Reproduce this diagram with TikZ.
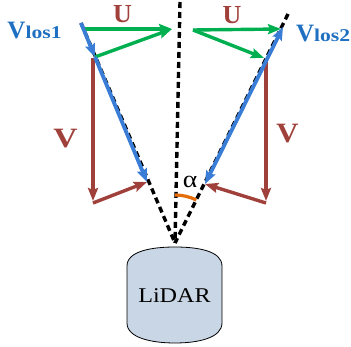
\documentclass[tikz,border=0pt]{standalone}
\usepackage{fontspec}
\setmainfont{Liberation Serif}
\usetikzlibrary{arrows.meta}
\definecolor{losblue}{HTML}{1F70C1}
\definecolor{arrblue}{HTML}{3A7DD6}
\definecolor{ugreen}{HTML}{00B050}
\definecolor{vred}{HTML}{A0403A}
\definecolor{arcorange}{HTML}{E46C0A}
\definecolor{lidarfill}{HTML}{C9D6E5}
\begin{document}
\begin{tikzpicture}[x=1pt,y=-1pt,
  beam/.style={black, line width=3.4pt, dash pattern=on 6pt off 4pt},
  vtip/.style={-{Stealth[length=13pt,width=10pt,inset=2pt]}},
  bluevec/.style={arrblue, line width=3.8pt},
  greenvec/.style={ugreen, line width=3.4pt, vtip},
  redvec/.style={vred, line width=3.4pt, vtip},
  lbl/.style={inner sep=0pt, outer sep=0pt}]
\useasboundingbox (0,0) rectangle (351,347);

% key points
\coordinate (apex) at (175,243);
\coordinate (ctop) at (180,2);
\coordinate (L0) at (81,23);
\coordinate (L1) at (95,57);
\coordinate (Lend) at (147,182);
\coordinate (Lvtop) at (93,58);
\coordinate (Lvbot) at (93,201);
\coordinate (Lcorner) at (93,203);
\coordinate (LUs) at (82,29);
\coordinate (LUe) at (172,29);
\coordinate (R0) at (288,14);
\coordinate (Rtip) at (283,27);
\coordinate (Rend) at (205,184);
\coordinate (Rvtop) at (266,61);
\coordinate (Rvbot) at (266,201);
\coordinate (Rcorner) at (266,203);
\coordinate (RUs) at (193,30);
\coordinate (RUe) at (281,29);
\coordinate (Rg2e) at (264,58);

% LiDAR body
\path[draw=black, line width=0.8pt, fill=lidarfill]
  (127,266) .. controls (127,251) and (152,247) .. (175,247)
  .. controls (198,247) and (222,251) .. (222,266)
  -- (222,323) .. controls (222,338) and (198,343) .. (175,343)
  .. controls (152,343) and (127,338) .. (127,323) -- cycle;
\node[lbl, anchor=base] (lidar) at (174.5,302.5)
  {\fontsize{21}{21}\selectfont\scalebox{1.15}[1]{LiDAR}};

% beams
\draw[beam] (L0) -- (apex);
\draw[beam] (ctop) -- (apex);
\draw[beam] (R0) -- (apex);

% angle arc
\draw[arcorange, line width=3.2pt] ([shift={(-90:48)}]apex) arc[start angle=-90, end angle=-63.6, radius=48];
\node[lbl] (alpha) at (190,181.5) {\fontsize{24}{24}\selectfont\scalebox{1.15}[1]{α}};

% red V vectors
\draw[redvec] (Lvtop) -- (Lvbot);
\draw[redvec] (Lcorner) -- (Lend);
\draw[redvec] (Rvtop) -- (Rvbot);
\draw[redvec] (Rcorner) -- (Rend);

% green U vectors
\draw[greenvec] (LUs) -- (LUe);
\draw[greenvec] (L1) -- (LUe);
\draw[greenvec] (RUs) -- (RUe);
\draw[greenvec] (RUs) -- (Rg2e);

% blue Vlos vectors
\draw[bluevec, vtip] (L0) -- (L1);
\draw[bluevec, vtip] (L1) -- (Lend);
\draw[bluevec, {Stealth[length=13pt,width=10pt,inset=2pt]}-{Stealth[length=13pt,width=10pt,inset=2pt]}] (Rend) -- (Rtip);

% labels
\node[lbl, anchor=base west, text=losblue, font=\bfseries] (vlos1) at (7.5,38.5)
  {\fontsize{25}{25}\selectfont V\fontsize{18}{18}\selectfont\scalebox{1.2}[1]{los1}};
\node[lbl, anchor=base west, text=losblue, font=\bfseries] (vlos2) at (296,41.5)
  {\fontsize{25}{25}\selectfont V\fontsize{18}{18}\selectfont\scalebox{1.2}[1]{los2}};
\node[lbl, anchor=base, text=vred, font=\bfseries] (uL) at (122.5,23)
  {\fontsize{26}{26}\selectfont U};
\node[lbl, anchor=base, text=vred, font=\bfseries] (uR) at (232,24)
  {\fontsize{26}{26}\selectfont U};
\node[lbl, anchor=base, text=vred, font=\bfseries] (vL) at (65.5,148)
  {\fontsize{28}{28}\selectfont\scalebox{1.2}[1]{V}};
\node[lbl, anchor=base, text=vred, font=\bfseries] (vR) at (287.5,143)
  {\fontsize{28}{28}\selectfont\scalebox{1.1}[1]{V}};
\end{tikzpicture}
\end{document}
